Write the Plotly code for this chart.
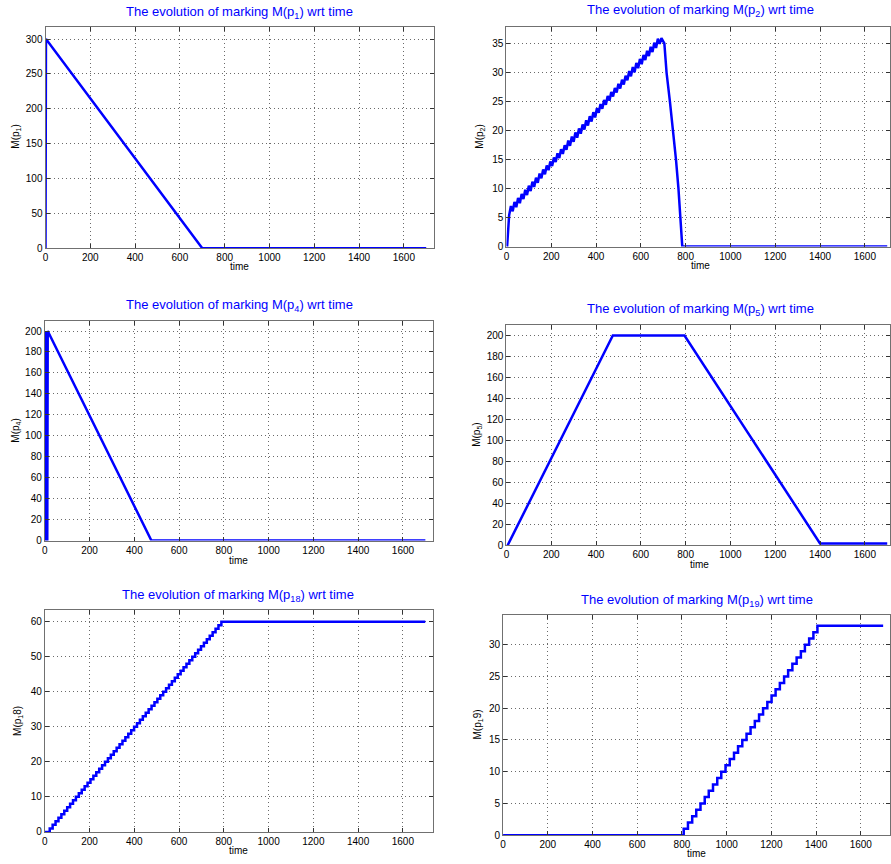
import plotly.graph_objects as go

# ---------------- data ----------------
# M(p1)
P1_T = [0, 2, 700, 1700]
P1_M = [0, 300, 0, 0]

# M(p2): initial rise, rippled ramp, steep fall
P2_RISE_T = [0, 3]
P2_RISE_M = [0, 0]
P2_RAMP_T = [12, 20, 28, 36, 44, 52, 60, 68, 76, 84, 92, 100, 108, 116, 124, 132, 140, 148,
             156, 164, 172, 180, 188, 196, 204, 212, 220, 228, 236, 244, 252, 260, 268, 276,
             284, 292, 300, 308, 316, 324, 332, 340, 348, 356, 364, 372, 380, 388, 396, 404,
             412, 420, 428, 436, 444, 452, 460, 468, 476, 484, 492, 500, 508, 516, 524, 532,
             540, 548, 556, 564, 572, 580, 588, 596, 604, 612, 620, 628, 636, 644, 652, 660,
             668, 676, 684, 692]
P2_RAMP_M = [5.4, 7.0, 6.1, 7.7, 6.8, 8.4, 7.5, 9.1, 8.2, 9.8,
             8.9, 10.5, 9.6, 11.2, 10.3, 11.9, 11.0, 12.6, 11.8, 13.3,
             12.5, 14.0, 13.2, 14.7, 13.9, 15.4, 14.6, 16.1, 15.3, 16.8,
             16.0, 17.5, 16.7, 18.3, 17.4, 19.0, 18.1, 19.7, 18.8, 20.4,
             19.5, 21.1, 20.2, 21.8, 20.9, 22.5, 21.6, 23.2, 22.3, 23.9,
             23.1, 24.6, 23.8, 25.3, 24.5, 26.0, 25.2, 26.7, 25.9, 27.4,
             26.6, 28.1, 27.3, 28.8, 28.0, 29.5, 28.7, 30.3, 29.4, 31.0,
             30.1, 31.7, 30.8, 32.4, 31.5, 33.1, 32.2, 33.8, 32.9, 34.5,
             33.6, 35.2, 34.3, 35.9, 35.0, 36.0]
P2_FALL_T = [705, 715, 730, 745, 757, 768, 777, 785, 1700]
P2_FALL_M = [35.1, 30, 25, 20, 15, 10, 5, 0, 0]

# M(p4)
P4_T = [0, 2, 4, 11, 13, 476, 1700]
P4_M = [0, 200, 0, 0, 200, 0, 0]

# M(p5)
P5_T = [0, 5, 475, 795, 1400, 1700]
P5_M = [0, 0, 200, 200, 2, 2]

# M(p18): staircase (time at which each new level is reached)
P18_T = [0, 22, 35, 48, 61, 74, 87, 100, 113, 126, 139, 152, 165, 178, 191, 204, 217, 230,
         243, 256, 269, 282, 295, 308, 321, 334, 347, 360, 373, 386, 399, 412, 425, 438,
         451, 464, 477, 490, 503, 516, 529, 542, 555, 568, 581, 594, 607, 620, 633, 646,
         659, 672, 685, 698, 711, 724, 737, 750, 763, 776, 789, 1700]
P18_M = [0, 1, 2, 3, 4, 5, 6, 7, 8, 9, 10, 11, 12, 13, 14, 15, 16, 17, 18, 19, 20,
         21, 22, 23, 24, 25, 26, 27, 28, 29, 30, 31, 32, 33, 34, 35, 36, 37, 38, 39, 40,
         41, 42, 43, 44, 45, 46, 47, 48, 49, 50, 51, 52, 53, 54, 55, 56, 57, 58, 59, 60, 60]

# M(p19): staircase
P19_T = [0, 808, 827, 846, 864, 883, 902, 920, 939, 958, 976, 995, 1014, 1033, 1051, 1070,
         1089, 1107, 1126, 1145, 1163, 1182, 1201, 1219, 1238, 1257, 1275, 1294, 1313,
         1332, 1350, 1369, 1388, 1406, 1700]
P19_M = [0, 1, 2, 3, 4, 5, 6, 7, 8, 9, 10, 11, 12, 13, 14, 15, 16, 17, 18, 19, 20,
         21, 22, 23, 24, 25, 26, 27, 28, 29, 30, 31, 32, 33, 33]

TITLE_SUBS = ["1", "2", "4", "5", "18", "19"]
YLABELS = ["M(p<sub>1</sub>)", "M(p<sub>2</sub>)", "M(p<sub>4</sub>)", "M(p<sub>5</sub>)",
           "M(p<sub>1</sub>8)", "M(p<sub>1</sub>9)"]
Y_RANGES = [318, 38, 209.5, 210, 63.2, 34.7]
Y_DTICKS = [50, 5, 20, 20, 10, 5]

# ---------------- layout geometry (pixels) ----------------
W, H = 891, 864
# (left, right, top, bottom, xmax)
BOXES = [
    (42.7, 433.0, 26.7, 250.0, 1735),
    (505.7, 891.0, 26.7, 248.3, 1712.4),
    (42.0, 431.7, 323.3, 544.3, 1733),
    (505.7, 891.0, 327.3, 549.3, 1712.4),
    (42.0, 432.0, 614.7, 837.7, 1735),
    (502.3, 891.0, 619.3, 841.0, 1730.6),
]
TITLE_POS = [(238, 13), (700.5, 11), (237.5, 308), (700.8, 312), (236.2, 600), (696.7, 605)]
XLABEL_POS = [(238, 268.3), (700.7, 267.7), (237, 564), (700, 568.3), (237, 856.7), (696.7, 859)]
YLABEL_POS = [(12.7, 138), (478.3, 137.5), (12.7, 434), (476.7, 438.3), (15, 726), (476.7, 730)]

SERIES = [
    (P1_T, P1_M, "linear"),
    (P2_RISE_T + P2_RAMP_T + P2_FALL_T, P2_RISE_M + P2_RAMP_M + P2_FALL_M, "linear"),
    (P4_T, P4_M, "linear"),
    (P5_T, P5_M, "linear"),
    (P18_T, P18_M, "hv"),
    (P19_T, P19_M, "hv"),
]

FONT = "Liberation Sans, Arial, Helvetica, sans-serif"
BLUE = "#0000ff"

fig = go.Figure()
annotations = []
layout_axes = {}

for i, ((t, m, shape), box) in enumerate(zip(SERIES, BOXES)):
    n = i + 1
    xa = "x" if n == 1 else f"x{n}"
    ya = "y" if n == 1 else f"y{n}"
    fig.add_trace(go.Scatter(x=t, y=m, mode="lines", xaxis=xa, yaxis=ya,
                             line=dict(color=BLUE, width=2.5, shape=shape),
                             showlegend=False, hoverinfo="skip"))
    left, right, top, bottom, xmax = box
    common = dict(showgrid=True, gridcolor="#6a6a6a", griddash="1px,3px", gridwidth=1,
                  showline=True, linecolor="#707070", linewidth=1, mirror="ticks",
                  ticks="inside", ticklen=4, tickcolor="#333333", zeroline=False,
                  tickfont=dict(family=FONT, size=10, color="black"))
    layout_axes["xaxis" if n == 1 else f"xaxis{n}"] = dict(
        common, domain=[left / W, min(right / W, 1.0)], range=[0, xmax],
        tick0=0, dtick=200, anchor=ya)
    layout_axes["yaxis" if n == 1 else f"yaxis{n}"] = dict(
        common, domain=[1 - bottom / H, 1 - top / H], range=[0, Y_RANGES[i]],
        tick0=0, dtick=Y_DTICKS[i], anchor=xa)

    tx, ty = TITLE_POS[i]
    annotations.append(dict(text=f"The evolution of marking M(p<sub>{TITLE_SUBS[i]}</sub>) wrt time",
                            x=tx / W, y=1 - ty / H, xref="paper", yref="paper",
                            xanchor="center", yanchor="middle", showarrow=False,
                            font=dict(family=FONT, size=13, color=BLUE)))
    lx, ly = XLABEL_POS[i]
    annotations.append(dict(text="time", x=lx / W, y=1 - ly / H, xref="paper", yref="paper",
                            xanchor="center", yanchor="middle", showarrow=False,
                            font=dict(family=FONT, size=10, color="black")))
    yx, yy = YLABEL_POS[i]
    annotations.append(dict(text=YLABELS[i], x=yx / W, y=1 - yy / H, xref="paper", yref="paper",
                            xanchor="center", yanchor="middle", showarrow=False, textangle=-90,
                            font=dict(family=FONT, size=10, color="black")))

fig.update_layout(width=W, height=H, margin=dict(l=0, r=0, t=0, b=0),
                  paper_bgcolor="white", plot_bgcolor="white",
                  annotations=annotations, **layout_axes)

fig.write_html("out.html", config={"displayModeBar": False},
               post_script="document.body.style.margin='0';document.body.style.overflow='hidden';")
